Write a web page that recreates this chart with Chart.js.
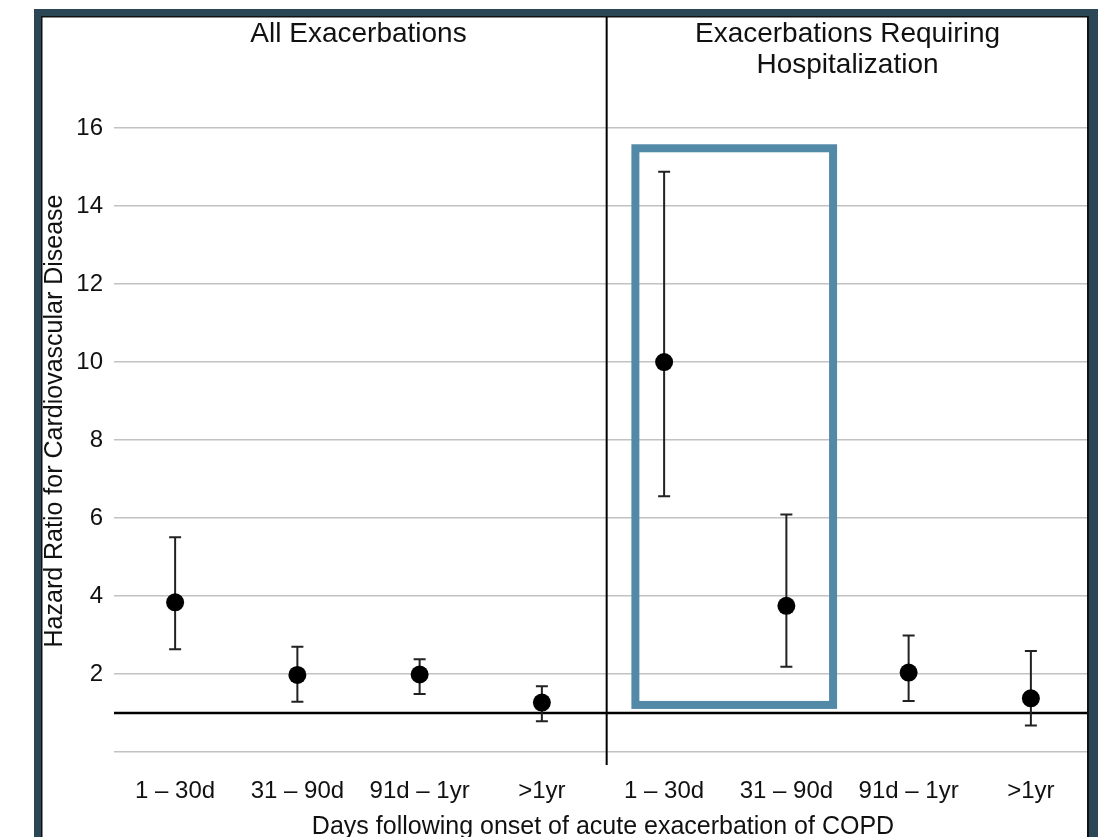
<!DOCTYPE html>
<html>
<head>
<meta charset="utf-8">
<script src="https://cdn.jsdelivr.net/npm/chart.js@4"></script>
<style>
  html, body { margin:0; padding:0; background:#fff; overflow:hidden; }
  #wrap { position:relative; width:1103px; height:837px; }
  canvas { position:absolute; left:0; top:0; }
  #frame {
    position:absolute; left:34px; top:9px; width:1064px; height:900px;
    box-sizing:border-box;
    border-left:7px solid #2b4654; border-top:7px solid #2b4654; border-right:9px solid #2b4654;
    box-shadow: inset 1.5px 1.5px 0 0 #111, inset -2px 0 0 0 #111;
    pointer-events:none;
  }
</style>
</head>
<body>
<div id="wrap">
  <canvas id="c" width="1103" height="837"></canvas>
  <div id="frame"></div>
</div>
<script>
// ---- data ----
const categories = ['1 \u2013 30d', '31 \u2013 90d', '91d \u2013 1yr', '>1yr'];
const panelTitles = [['All Exacerbations'], ['Exacerbations Requiring', 'Hospitalization']];
const yAxisTitle = 'Hazard Ratio for Cardiovascular Disease';
const xAxisTitle = 'Days following onset of acute exacerbation of COPD';
const allHR    = [3.84, 1.98, 1.99, 1.27];
const allLower = [2.64, 1.29, 1.49, 0.79];
const allUpper = [5.51, 2.70, 2.38, 1.69];
const hospHR    = [10.0, 3.75, 2.04, 1.38];
const hospLower = [6.56, 2.19, 1.31, 0.68];
const hospUpper = [14.88, 6.09, 2.99, 2.59];
const yTicks = [0, 2, 4, 6, 8, 10, 12, 14, 16];
const refHR = 1;
const dividerX = 4.03;
const highlight = { x0: 4.265, x1: 5.882, y0: 1.21, y1: 15.48 };

const hr = allHR.concat(hospHR);
const lower = allLower.concat(hospLower);
const upper = allUpper.concat(hospUpper);
const points = hr.map((v, i) => ({ x: i + 0.5, y: v }));

const FONT = '"Liberation Sans", Arial, Helvetica, sans-serif';
Chart.defaults.font.family = FONT;
Chart.defaults.color = '#111';

const deco = {
  id: 'deco',
  beforeDatasetsDraw(chart) {
    const { ctx, chartArea: a, scales: { x, y } } = chart;
    ctx.save();
    // reference line at HR = 1
    ctx.strokeStyle = '#000';
    ctx.lineWidth = 2.5;
    ctx.beginPath();
    const yr = y.getPixelForValue(refHR);
    ctx.moveTo(a.left, yr); ctx.lineTo(a.right, yr); ctx.stroke();
    // divider between panels
    ctx.lineWidth = 2;
    const xd = x.getPixelForValue(dividerX);
    ctx.beginPath(); ctx.moveTo(xd, 16); ctx.lineTo(xd, a.bottom); ctx.stroke();
    // error bars
    ctx.strokeStyle = '#222';
    ctx.lineWidth = 2;
    for (let i = 0; i < hr.length; i++) {
      const px = x.getPixelForValue(i + 0.5);
      const yl = y.getPixelForValue(lower[i]);
      const yu = y.getPixelForValue(upper[i]);
      ctx.beginPath();
      ctx.moveTo(px, yl); ctx.lineTo(px, yu);
      ctx.moveTo(px - 6, yl); ctx.lineTo(px + 6, yl);
      ctx.moveTo(px - 6, yu); ctx.lineTo(px + 6, yu);
      ctx.stroke();
    }
    ctx.restore();
  },
  afterDatasetsDraw(chart) {
    const { ctx, scales: { x, y } } = chart;
    ctx.save();
    ctx.strokeStyle = '#5289a7';
    ctx.lineWidth = 8;
    const l = x.getPixelForValue(highlight.x0), r = x.getPixelForValue(highlight.x1);
    const t = y.getPixelForValue(highlight.y1), b = y.getPixelForValue(highlight.y0);
    ctx.strokeRect(l, t, r - l, b - t);
    // panel titles
    ctx.fillStyle = '#111';
    ctx.font = '28px ' + FONT;
    ctx.textAlign = 'center';
    ctx.textBaseline = 'middle';
    panelTitles.forEach((lines, p) => {
      const cx = x.getPixelForValue(p * 4 + 2);
      lines.forEach((txt, k) => ctx.fillText(txt, cx, 34 + k * 31));
    });
    // y-axis title
    ctx.font = '25px ' + FONT;
    ctx.translate(55, 421);
    ctx.rotate(-Math.PI / 2);
    ctx.fillText(yAxisTitle, 0, 0);
    ctx.restore();
  }
};

new Chart(document.getElementById('c'), {
  type: 'scatter',
  data: {
    datasets: [{
      data: points,
      pointRadius: 9,
      pointHoverRadius: 9,
      backgroundColor: '#000',
      borderWidth: 0
    }]
  },
  options: {
    responsive: false,
    animation: false,
    devicePixelRatio: 1,
    events: [],
    layout: { padding: { left: 40, right: 11, top: 128, bottom: 0 } },
    plugins: { legend: { display: false }, tooltip: { enabled: false }, title: { display: false } },
    scales: {
      x: {
        type: 'linear', min: 0, max: 8,
        grid: { display: false, drawTicks: false },
        border: { display: false },
        afterBuildTicks(s) { s.ticks = points.map(p => ({ value: p.x })); },
        afterFit(s) { s.height = 72; },
        ticks: {
          autoSkip: false, maxRotation: 0, padding: 12,
          font: { size: 24 }, color: '#111',
          callback(v) { return categories[Math.floor(v) % 4]; }
        },
        title: {
          display: true,
          text: xAxisTitle,
          font: { size: 25, lineHeight: 0.8 }, color: '#111',
          padding: { top: 0, bottom: 0 }
        }
      },
      y: {
        min: -0.33, max: 16,
        grid: { color: '#c2c2c2', lineWidth: 1.5, drawTicks: false },
        border: { display: false },
        afterBuildTicks(s) { s.ticks = yTicks.map(v => ({ value: v })); },
        afterFit(s) { s.width = 74; },
        ticks: {
          padding: 11, font: { size: 24 }, color: '#111',
          callback(v) { return v === 0 ? '' : String(v); }
        },
        title: { display: false }
      }
    }
  },
  plugins: [deco]
});
</script>
</body>
</html>
